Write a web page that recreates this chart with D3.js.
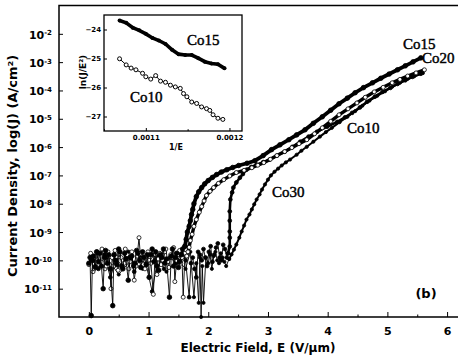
<!DOCTYPE html>
<html>
<head>
<meta charset="utf-8">
<script src="https://cdn.jsdelivr.net/npm/d3@7"></script>
<style>
  body { margin: 0; background: #fff; }
  svg text { fill: #000; }
</style>
</head>
<body>
<div id="chart"></div>
<script>
// main axes
const xTicks = [0, 1, 2, 3, 4, 5, 6];
const xMinorTicks = [0.5, 1.5, 2.5, 3.5, 4.5, 5.5];
const yTickExp = [-2, -3, -4, -5, -6, -7, -8, -9, -10, -11];

// inset axes
const insetXTicks = [0.0011, 0.0012];
const insetXMinor = [0.00105, 0.00115];
const insetYTicks = [-24, -25, -26, -27];

// [E (V/um), log10 J] - noise floor part and rising part of each sample
const co15Low = [[0.00,-10.1],[0.02,-9.9],[0.04,-11.95],[0.06,-10.0],[0.08,-9.85],[0.11,-10.25],[0.13,-9.7],[0.16,-10.05],[0.18,-9.75],[0.21,-10.2],[0.24,-11.0],[0.26,-9.9],[0.28,-9.65],[0.31,-10.1],[0.33,-9.8],[0.36,-10.3],[0.40,-11.6],[0.42,-9.8],[0.45,-10.0],[0.47,-10.15],[0.50,-9.6],[0.52,-9.7],[0.55,-10.2],[0.57,-10.3],[0.60,-9.75],[0.62,-9.95],[0.66,-10.7],[0.69,-9.9],[0.72,-9.85],[0.75,-10.2],[0.77,-10.1],[0.80,-9.65],[0.82,-9.75],[0.85,-10.0],[0.87,-10.25],[0.90,-9.7],[0.92,-9.9],[0.96,-10.15],[0.98,-9.8],[1.01,-10.6],[1.04,-9.8],[1.06,-9.6],[1.09,-10.05],[1.12,-9.7],[1.14,-10.2],[1.17,-10.35],[1.20,-9.8],[1.22,-9.9],[1.25,-9.6],[1.27,-10.1],[1.30,-9.95],[1.35,-11.3],[1.38,-9.85],[1.40,-9.6],[1.42,-10.2],[1.45,-9.9],[1.47,-9.75],[1.50,-10.25],[1.52,-10.05],[1.55,-9.8],[1.57,-9.6],[1.61,-9.5]];
const co15High = [[1.61,-9.5],[1.63,-9.26],[1.65,-9.0],[1.68,-8.8],[1.70,-8.6],[1.72,-8.38],[1.74,-8.2],[1.76,-8.0],[1.80,-7.75],[1.84,-7.58],[1.89,-7.43],[1.94,-7.3],[2.00,-7.18],[2.07,-7.07],[2.14,-6.97],[2.22,-6.88],[2.31,-6.80],[2.41,-6.72],[2.51,-6.65],[2.65,-6.57],[2.78,-6.48],[2.92,-6.3],[3.06,-6.09],[3.2,-5.92],[3.35,-5.74],[3.48,-5.57],[3.62,-5.39],[3.76,-5.16],[3.91,-4.93],[4.05,-4.70],[4.19,-4.47],[4.33,-4.27],[4.46,-4.08],[4.6,-3.9],[4.75,-3.73],[4.89,-3.57],[5.03,-3.42],[5.17,-3.27],[5.30,-3.13],[5.43,-2.99],[5.56,-2.85]];

const co20Low = [[0.00,-10.15],[0.03,-9.75],[0.05,-9.9],[0.07,-10.4],[0.09,-10.3],[0.12,-9.85],[0.14,-9.7],[0.17,-10.15],[0.19,-10.05],[0.22,-9.6],[0.25,-9.95],[0.27,-10.3],[0.29,-10.2],[0.32,-9.7],[0.34,-9.85],[0.37,-11.0],[0.39,-9.9],[0.42,-10.2],[0.44,-9.65],[0.47,-9.9],[0.49,-10.35],[0.51,-9.75],[0.54,-9.9],[0.56,-10.25],[0.59,-10.1],[0.61,-9.6],[0.64,-9.8],[0.67,-10.3],[0.69,-10.05],[0.72,-9.7],[0.76,-10.7],[0.79,-10.2],[0.81,-9.85],[0.84,-9.2],[0.86,-9.75],[0.89,-9.95],[0.91,-10.15],[0.94,-10.3],[0.96,-9.85],[0.99,-9.7],[1.01,-10.0],[1.04,-10.1],[1.08,-11.2],[1.11,-9.8],[1.14,-10.5],[1.16,-9.95],[1.19,-9.75],[1.21,-10.15],[1.24,-10.0],[1.27,-9.7],[1.29,-9.6],[1.32,-10.05],[1.34,-10.25],[1.37,-9.8],[1.39,-9.9],[1.42,-9.55],[1.44,-10.75],[1.47,-10.0],[1.49,-9.8],[1.52,-9.65],[1.54,-10.1],[1.56,-9.9],[1.58,-11.3],[1.61,-9.75],[1.64,-9.85]];
const co20High = [[1.64,-9.85],[1.66,-9.7],[1.68,-9.54],[1.70,-9.3],[1.73,-9.08],[1.76,-8.8],[1.80,-8.56],[1.85,-8.3],[1.89,-8.10],[1.93,-7.9],[1.97,-7.71],[2.03,-7.56],[2.09,-7.43],[2.17,-7.28],[2.26,-7.15],[2.36,-7.02],[2.47,-6.90],[2.6,-6.82],[2.73,-6.73],[2.83,-6.64],[2.93,-6.55],[3.04,-6.43],[3.15,-6.30],[3.28,-6.16],[3.40,-6.02],[3.52,-5.88],[3.65,-5.74],[3.78,-5.53],[3.91,-5.32],[4.05,-5.09],[4.19,-4.86],[4.34,-4.65],[4.49,-4.44],[4.63,-4.24],[4.78,-4.05],[4.93,-3.89],[5.08,-3.73],[5.21,-3.61],[5.34,-3.49],[5.48,-3.38],[5.62,-3.27]];

const co10Low = [[0.06,-10.0],[0.16,-10.3],[0.26,-9.8],[0.36,-10.6],[0.46,-9.95],[0.56,-10.2],[0.66,-9.7],[0.76,-10.4],[0.86,-9.9],[0.96,-10.15],[1.06,-11.1],[1.16,-9.85],[1.26,-10.3],[1.36,-9.9],[1.46,-10.1],[1.56,-9.7],[1.62,-10.0],[1.68,-11.3],[1.71,-10.1],[1.74,-9.9],[1.77,-10.3],[1.80,-10.6],[1.83,-9.7],[1.86,-9.8],[1.89,-10.0],[1.92,-9.6],[1.95,-9.9],[1.98,-10.2],[2.01,-9.7],[2.04,-9.5],[2.07,-10.05],[2.10,-9.8],[2.13,-9.55],[2.16,-9.4],[2.19,-9.9],[2.22,-10.0],[2.25,-9.45],[2.28,-9.6],[2.31,-9.9],[2.33,-9.75]];
const co10High = [[2.33,-9.75],[2.36,-9.51],[2.36,-9.2],[2.36,-8.98],[2.36,-8.6],[2.36,-8.27],[2.37,-7.85],[2.40,-7.6],[2.42,-7.43],[2.47,-7.25],[2.53,-7.08],[2.58,-6.95],[2.64,-6.80],[2.72,-6.7],[2.81,-6.62],[2.92,-6.53],[3.03,-6.44],[3.15,-6.3],[3.28,-6.16],[3.41,-5.99],[3.54,-5.81],[3.68,-5.63],[3.82,-5.46],[3.99,-5.28],[4.16,-5.11],[4.29,-4.95],[4.41,-4.79],[4.54,-4.6],[4.66,-4.40],[4.79,-4.22],[4.92,-4.05],[5.05,-3.91],[5.17,-3.77],[5.30,-3.64],[5.42,-3.52],[5.59,-3.38]];

const co30Low = [[0.1,-10.2],[0.3,-9.9],[0.5,-10.5],[0.7,-10.0],[0.9,-10.3],[1.1,-9.8],[1.3,-10.4],[1.5,-10.0],[1.62,-10.3],[1.7,-9.7],[1.76,-11.3],[1.8,-10.1],[1.84,-11.5],[1.86,-9.9],[1.88,-12.0],[1.9,-10.2],[1.92,-11.5],[1.96,-9.9],[2.0,-10.1],[2.03,-9.8],[2.06,-10.3],[2.09,-9.85],[2.12,-9.7],[2.15,-10.0],[2.18,-10.1],[2.21,-9.75],[2.24,-9.9],[2.27,-10.05],[2.3,-10.2],[2.35,-9.95]];
const co30High = [[2.35,-9.95],[2.39,-9.79],[2.43,-9.62],[2.47,-9.44],[2.52,-9.2],[2.56,-8.98],[2.60,-8.77],[2.64,-8.56],[2.69,-8.38],[2.73,-8.20],[2.77,-8.02],[2.81,-7.85],[2.86,-7.67],[2.90,-7.50],[2.95,-7.32],[3.00,-7.15],[3.05,-7.0],[3.11,-6.87],[3.17,-6.76],[3.23,-6.65],[3.30,-6.54],[3.37,-6.44],[3.48,-6.27],[3.56,-6.13],[3.65,-5.99],[3.76,-5.81],[3.87,-5.63],[3.97,-5.47],[4.07,-5.32],[4.20,-5.12],[4.33,-4.93],[4.46,-4.73],[4.58,-4.54],[4.70,-4.36],[4.83,-4.19],[4.96,-4.03],[5.08,-3.87],[5.21,-3.73],[5.34,-3.59],[5.45,-3.5],[5.56,-3.42]];

// inset: [1/E, ln(J/E^2)]
const insetCo15 = [[0.0010686,-23.69],[0.0010765,-23.77],[0.0010844,-23.94],[0.0010921,-24.03],[0.0011,-24.15],[0.0011079,-24.29],[0.0011156,-24.38],[0.0011235,-24.50],[0.0011314,-24.70],[0.0011392,-24.85],[0.0011471,-24.88],[0.0011549,-24.88],[0.0011627,-24.99],[0.0011706,-25.11],[0.0011785,-25.17],[0.0011862,-25.20],[0.0011941,-25.34]];
const insetCo10 = [[0.0010686,-25.01],[0.0010765,-25.22],[0.0010824,-25.33],[0.0010882,-25.39],[0.0010961,-25.51],[0.0011,-25.63],[0.0011059,-25.71],[0.0011118,-25.59],[0.0011176,-25.78],[0.0011235,-25.82],[0.0011294,-25.92],[0.0011353,-25.98],[0.0011412,-26.03],[0.0011451,-26.21],[0.0011491,-26.32],[0.0011549,-26.50],[0.0011608,-26.55],[0.0011667,-26.67],[0.0011726,-26.73],[0.0011765,-26.79],[0.0011804,-26.94],[0.0011862,-27.06],[0.0011921,-27.10]];

const W = 458, H = 357;
const sans = "'DejaVu Sans', sans-serif";
const serif = "'Liberation Serif', 'Times New Roman', serif";

const svg = d3.select("#chart").append("svg")
  .attr("width", W)
  .attr("height", H);

// main scales
const x = d3.scaleLinear().domain([-0.5, 6.3]).range([59, 465]);
const y = d3.scaleLog().domain([1e-12, 1e-1]).range([317, 5.5]);

const line = d3.line()
  .x(d => x(d[0]))
  .y(d => y(Math.pow(10, d[1])));

function drawSeries(low, high, opt) {
  const g = svg.append("g");
  g.append("path").datum(low)
    .attr("fill", "none").attr("stroke", "#000").attr("stroke-width", 0.9)
    .attr("d", line);
  g.append("path").datum(high)
    .attr("fill", "none").attr("stroke", "#000").attr("stroke-width", opt.thick)
    .attr("d", line);
  g.selectAll("circle")
    .data(low.concat(high))
    .join("circle")
    .attr("cx", d => x(d[0]))
    .attr("cy", d => y(Math.pow(10, d[1])))
    .attr("r", opt.r)
    .attr("fill", opt.open ? "#fff" : "#000")
    .attr("stroke", "#000")
    .attr("stroke-width", 0.8);
}

drawSeries(co30Low, co30High, {thick: 2, r: 1.6, open: false});
drawSeries(co10Low, co10High, {thick: 2.6, r: 1.9, open: false});
drawSeries(co20Low, co20High, {thick: 3.4, r: 2, open: true});
drawSeries(co15Low, co15High, {thick: 3.8, r: 2.3, open: false});

// frame
svg.append("path")
  .attr("d", `M${W + 2},${y.range()[1]}H${x.range()[0]}V${y.range()[0]}H${W + 2}`)
  .attr("fill", "none").attr("stroke", "#000").attr("stroke-width", 1.5);

// x axis
const xAxis = svg.append("g")
  .attr("transform", `translate(0,${y.range()[0]})`)
  .call(d3.axisBottom(x).tickValues(xTicks).tickSize(-5).tickPadding(10).tickFormat(d3.format("d")));
xAxis.select(".domain").remove();
xAxis.selectAll("text").style("font", `bold 11px ${sans}`);
const xMinor = svg.append("g")
  .attr("transform", `translate(0,${y.range()[0]})`)
  .call(d3.axisBottom(x).tickValues(xMinorTicks).tickSize(-2.5).tickFormat(""));
xMinor.select(".domain").remove();

// y axis
const yAxis = svg.append("g")
  .attr("transform", `translate(${x.range()[0]},0)`)
  .call(d3.axisLeft(y).tickValues(yTickExp.map(e => Math.pow(10, e))).tickSize(-4).tickPadding(7).tickFormat(""));
yAxis.select(".domain").remove();
yAxis.selectAll(".tick").each(function(d, i) {
  const t = d3.select(this).select("text")
    .attr("x", -7).attr("dy", "0.38em")
    .style("font", `bold 11px ${sans}`);
  t.append("tspan").text("10");
  t.append("tspan").text(String(yTickExp[i]))
    .attr("dy", "-0.45em")
    .style("font-size", "7px");
});

svg.append("text")
  .attr("transform", `translate(17,166) rotate(-90)`)
  .attr("text-anchor", "middle")
  .style("font", `bold 13px ${sans}`)
  .text("Current Density, log(J) (A/cm²)");

svg.append("text")
  .attr("x", 258).attr("y", 352)
  .attr("text-anchor", "middle")
  .style("font", `bold 12px ${sans}`)
  .text("Electric Field, E (V/μm)");

svg.append("text")
  .attr("x", 426).attr("y", 298)
  .attr("text-anchor", "middle")
  .style("font", `bold 13px ${sans}`)
  .text("(b)");

// series labels
const mainLabels = [["Co15", 403, 49], ["Co20", 422, 63], ["Co10", 347, 133], ["Co30", 272, 197]];
svg.selectAll(".lab")
  .data(mainLabels)
  .join("text")
  .attr("x", d => d[1]).attr("y", d => d[2])
  .style("font", `15px ${serif}`)
  .attr("stroke", "#000").attr("stroke-width", 0.45)
  .text(d => d[0]);

// inset
const ix = d3.scaleLinear().domain([0.00105, 0.001215]).range([104, 242]);
const iy = d3.scaleLinear().domain([-27.5, -23.5]).range([131, 15]);
const inset = svg.append("g");
inset.append("rect")
  .attr("x", ix.range()[0]).attr("y", iy.range()[1])
  .attr("width", ix.range()[1] - ix.range()[0])
  .attr("height", iy.range()[0] - iy.range()[1])
  .attr("fill", "#fff").attr("stroke", "#000").attr("stroke-width", 1.3);

const iline = d3.line().x(d => ix(d[0])).y(d => iy(d[1]));
inset.append("path").datum(insetCo15)
  .attr("fill", "none").attr("stroke", "#000").attr("stroke-width", 3.6)
  .attr("d", iline);
inset.selectAll(".p15").data(insetCo15).join("circle")
  .attr("cx", d => ix(d[0])).attr("cy", d => iy(d[1]))
  .attr("r", 2).attr("fill", "#000");
inset.append("path").datum(insetCo10)
  .attr("fill", "none").attr("stroke", "#000").attr("stroke-width", 1)
  .attr("d", iline);
inset.selectAll(".p10").data(insetCo10).join("circle")
  .attr("cx", d => ix(d[0])).attr("cy", d => iy(d[1]))
  .attr("r", 2).attr("fill", "#fff").attr("stroke", "#000").attr("stroke-width", 1);

const ixAxis = inset.append("g")
  .attr("transform", `translate(0,${iy.range()[0]})`)
  .call(d3.axisBottom(ix).tickValues(insetXTicks).tickSize(-3).tickPadding(4).tickFormat(d3.format(".4f")));
ixAxis.select(".domain").remove();
ixAxis.selectAll("text").style("font", `bold 7px ${sans}`);
const ixMinor = inset.append("g")
  .attr("transform", `translate(0,${iy.range()[0]})`)
  .call(d3.axisBottom(ix).tickValues(insetXMinor).tickSize(-1.8).tickFormat(""));
ixMinor.select(".domain").remove();

const iyAxis = inset.append("g")
  .attr("transform", `translate(${ix.range()[0]},0)`)
  .call(d3.axisLeft(iy).tickValues(insetYTicks).tickSize(-3).tickPadding(3).tickFormat(d3.format("d")));
iyAxis.select(".domain").remove();
iyAxis.selectAll("text").style("font", `bold 7px ${sans}`);

inset.append("text")
  .attr("x", 176).attr("y", 150)
  .attr("text-anchor", "middle")
  .style("font", `bold 8px ${sans}`)
  .text("1/E");
inset.append("text")
  .attr("transform", "translate(86,72) rotate(-90)")
  .attr("text-anchor", "middle")
  .style("font", `bold 9px ${sans}`)
  .text("ln(J/E²)");

const insetLabels = [["Co15", 187, 45], ["Co10", 130, 102]];
inset.selectAll(".ilab")
  .data(insetLabels)
  .join("text")
  .attr("x", d => d[1]).attr("y", d => d[2])
  .style("font", `15px ${serif}`)
  .attr("stroke", "#000").attr("stroke-width", 0.45)
  .text(d => d[0]);
</script>
</body>
</html>
